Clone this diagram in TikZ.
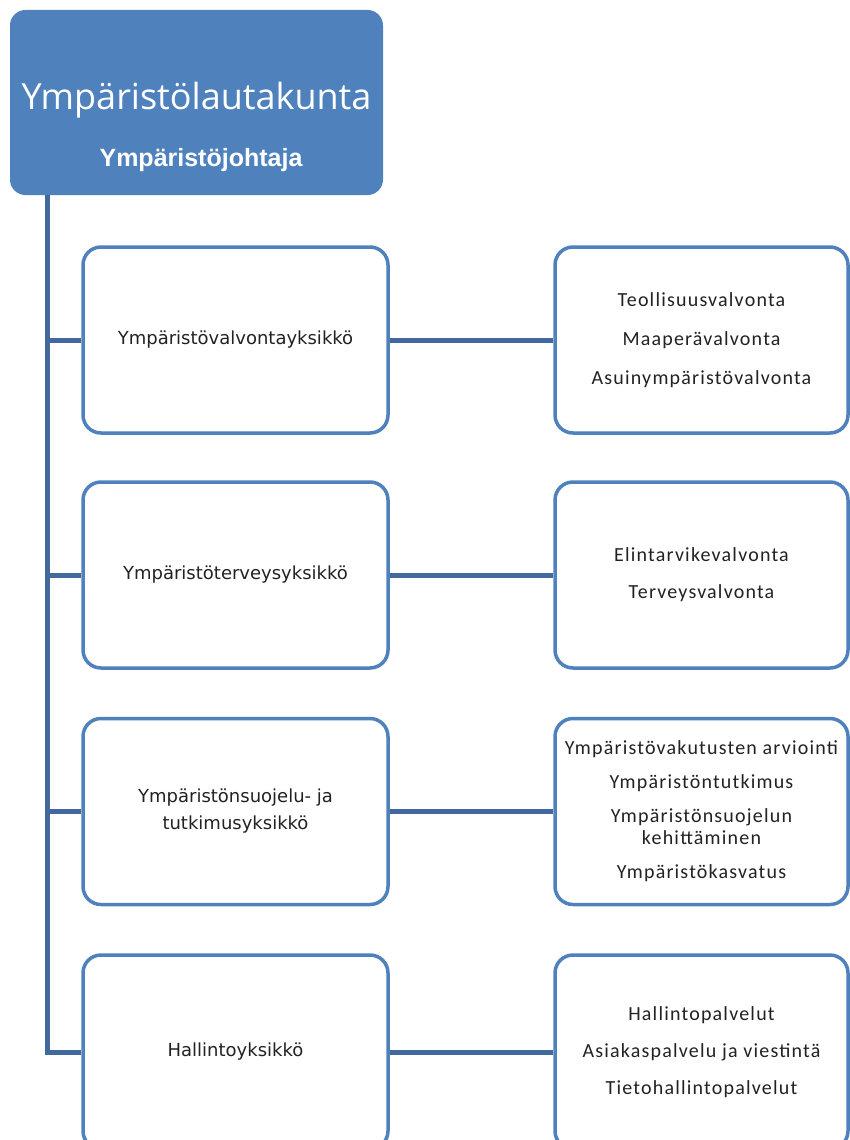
\documentclass[tikz,border=0pt]{standalone}
\usepackage{fontspec}
\setmainfont{Carlito}
\newfontfamily\leftfont{DejaVu Sans}
\newfontfamily\rightfont[LetterSpace=6]{Carlito}
\newfontfamily\titlefont{Open Sans}
\newfontfamily\subfont{Liberation Sans}
\usetikzlibrary{backgrounds}
\definecolor{boxblue}{RGB}{79,129,189}
\definecolor{connblue}{RGB}{66,104,158}
\definecolor{txtgray}{RGB}{34,34,34}
\tikzset{
  topbox/.style={fill=boxblue, draw=boxblue, line width=1pt, rounded corners=15pt,
    minimum width=372pt, minimum height=184pt, inner sep=0pt},
  lbox/.style={draw=boxblue, fill=white, line width=3.5pt, rounded corners=18pt,
    minimum width=305pt, minimum height=186pt, inner sep=0pt, align=center,
    text=txtgray, font=\leftfont\fontsize{18}{27}\selectfont},
  rbox/.style={draw=boxblue, fill=white, line width=3.5pt, rounded corners=18pt,
    minimum width=293pt, minimum height=186pt, inner sep=0pt, align=center,
    text=txtgray, font=\rightfont\fontsize{20}{22}\selectfont},
  conn/.style={draw=connblue, line width=5pt}
}
\begin{document}
\begin{tikzpicture}[x=1pt,y=-1pt]
\useasboundingbox (0,0) rectangle (849,1140);
% top box
\node[topbox] (top) at (196.5,102.5) {};
\node[text=white, font=\titlefont\fontsize{36}{40}\selectfont] (title) at (196.5,100) {Ympäristölautakunta};
\node[text=white, font=\subfont\bfseries\fontsize{25}{28}\selectfont] (sub) at (201,160) {Ympäristöjohtaja};
% left boxes
\node[lbox] (l1) at (235.5,340) {Ympäristövalvontayksikkö};
\node[lbox] (l2) at (235.5,575) {Ympäristöterveysyksikkö};
\node[lbox] (l3) at (235.5,811.5) {Ympäristönsuojelu- ja\\tutkimusyksikkö};
\node[lbox, minimum height=194pt] (l4) at (235.5,1052) {Hallintoyksikkö};
% right boxes
\node[rbox] (r1) at (701.5,340) {Teollisuusvalvonta\\[17pt]Maaperävalvonta\\[17pt]Asuinympäristövalvonta};
\node[rbox] (r2) at (701.5,575) {Elintarvikevalvonta\\[15pt]Terveysvalvonta};
\node[rbox] (r3) at (701.5,811.5) {Ympäristövakutusten arviointi\\[12pt]Ympäristöntutkimus\\[12pt]Ympäristönsuojelun\\kehittäminen\\[12pt]Ympäristökasvatus};
\node[rbox, minimum height=194pt] (r4) at (701.5,1052) {Hallintopalvelut\\[15pt]Asiakaspalvelu ja viestintä\\[15pt]Tietohallintopalvelut};
% connectors
\coordinate (spine) at ([xshift=37pt]top.south west);
\begin{scope}[on background layer]
\draw[conn] (spine) |- (l4.west);
\foreach \i in {1,2,3} {\draw[conn] (spine |- l\i.west) -- (l\i.west);}
\foreach \i in {1,2,3,4} {\draw[conn] (l\i.east) -- (r\i.west);}
\end{scope}
\end{tikzpicture}
\end{document}
